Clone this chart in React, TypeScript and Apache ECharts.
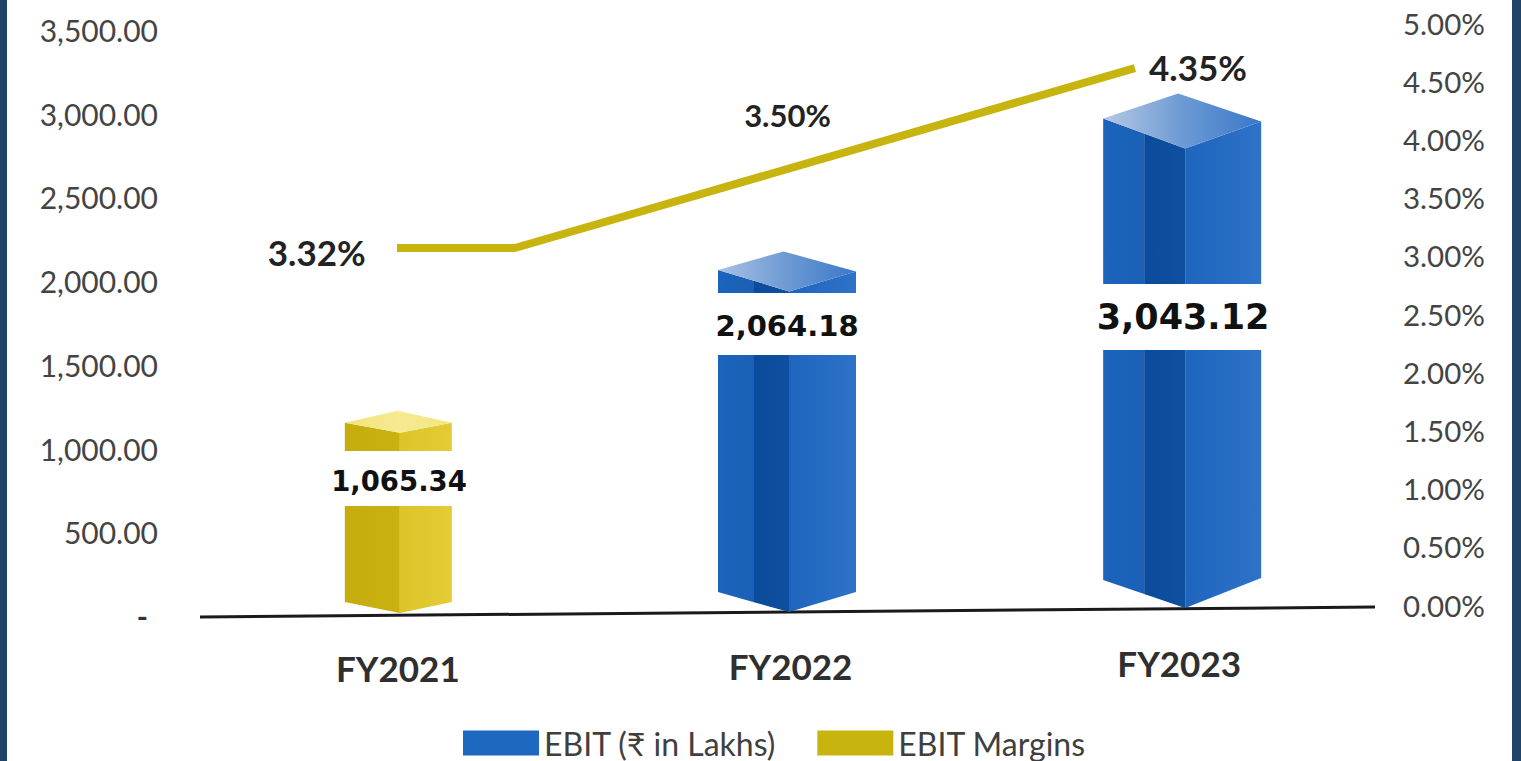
import React, { useEffect, useRef } from "react";
import * as echarts from "echarts";

const categories = ["FY2021", "FY2022", "FY2023"];
const ebitValues = [1065.34, 2064.18, 3043.12];
const marginLabels = ["3.32%", "3.50%", "4.35%"];
// The drawn line (its x is in category-band units)
const marginLineX = [0.503, 0.804, 2.387];
const marginLineY = [3.084, 3.084, 4.63];
// Where each margin label sits, in the same units
const marginLabelX = [0.298, 1.5, 2.548];
const marginLabelY = [3.05, 4.227, 4.64];

const seriesBar = "EBIT (₹ in Lakhs)";
const seriesLine = "EBIT Margins";
const FONT = "Lato, Carlito, 'Open Sans', sans-serif";
const GOLD = "#c8b40f";
const BLUE = "#1f68c0";

const lg = (stops: string[]) =>
  new echarts.graphic.LinearGradient(
    0, 0, 1, 0,
    stops.map((color, i) => ({ offset: stops.length === 1 ? 0 : i / (stops.length - 1), color }))
  );

// Drawing style of each prism: offsets in pixels from the bar's scaled centre, top and base.
const prisms = [
  {
    l: -51, r: 56, f: 4, d: -51, back: 2,
    tl: -16, tr: -16, ta: -28, tf: -6, bl: -15, br: -15, bf: -4,
    gapT: 451, gapB: 506, labelX: 399, labelY: 481, size: 27.5,
    cL: ["#c9b20e", "#c4ad0c"], cD: ["#c4ad0c", "#c8b110"], cR: ["#dcc428", "#e3cc36"],
    cT: ["#f2e476", "#f6ea92", "#f3e67e"],
  },
  {
    l: -69.5, r: 68.5, f: 1.5, d: -33.5, back: -4,
    tl: -1.5, tr: 0, ta: -20, tf: 20, bl: -25, br: -25, bf: -5,
    gapT: 293, gapB: 355, labelX: 787, labelY: 326, size: 29,
    cL: ["#1b63bb", "#1a60b6"], cD: ["#0b4b9b", "#0f4f9f"], cR: ["#1f65bd", "#2e72c9"],
    cT: ["#a9c2e2", "#6d9ad4", "#3a78c8"],
  },
  {
    l: -76, r: 82, f: 6, d: -35, back: -1,
    tl: 11, tr: 14, ta: -14, tf: 41, bl: -37, br: -39, bf: -9,
    gapT: 284, gapB: 350, labelX: 1183, labelY: 317, size: 35,
    cL: ["#1b63bb", "#1a60b6"], cD: ["#0b4b9b", "#0f4f9f"], cR: ["#1f65bd", "#2e72c9"],
    cT: ["#b5c9e4", "#6d9ad4", "#3a78c8"],
  },
];

function renderPrism(params: any, api: any) {
  const i = api.value(0);
  const v = api.value(1);
  const [cx, y] = api.coord([i, v]);
  const [, y0] = api.coord([i, 0]);
  const p = prisms[i];
  const L = cx + p.l, R = cx + p.r, F = cx + p.f, D = cx + p.d;
  const fy = y + p.tf, by = y0 + p.bf;
  const dyL = y0 + p.bl, dyR = y0 + p.br;
  const slopeLeft = (x: number, a: number, b: number) => a + ((b - a) * (x - L)) / (F - L);
  const face = (pts: number[][], fill: any) => ({ type: "polygon", shape: { points: pts }, style: { fill } });
  const children: any[] = [
    face([[L, y + p.tl], [D, slopeLeft(D, y + p.tl, fy)], [D, slopeLeft(D, dyL, by)], [L, dyL]], lg(p.cL)),
    face([[D, slopeLeft(D, y + p.tl, fy)], [F, fy], [F, by], [D, slopeLeft(D, dyL, by)]], lg(p.cD)),
    face([[F, fy], [R, y + p.tr], [R, dyR], [F, by]], lg(p.cR)),
    face([[L, y + p.tl], [cx + p.back, y + p.ta], [R, y + p.tr], [F, fy]], lg(p.cT)),
    { type: "rect", shape: { x: L - 25, y: p.gapT, width: R - L + 50, height: p.gapB - p.gapT }, style: { fill: "#ffffff" } },
    {
      type: "text",
      x: p.labelX,
      y: p.labelY,
      style: {
        text: ebitValues[i].toLocaleString("en-US", { minimumFractionDigits: 2, maximumFractionDigits: 2 }),
        font: `bold ${p.size}px 'DejaVu Sans', sans-serif`,
        fill: "#111111",
        align: "center",
        verticalAlign: "middle",
      },
    },
  ];
  return { type: "group", children };
}

export default function App() {
  const ref = useRef<HTMLDivElement>(null);
  useEffect(() => {
    const chart = echarts.init(ref.current!, undefined, { renderer: "svg" });
    chart.setOption({
      animation: false,
      backgroundColor: "#ffffff",
      grid: [
        { left: 200, right: 146, top: 31, bottom: 144 },
        { left: 200, right: 146, top: 25, bottom: 154 },
      ],
      xAxis: [
        {
          type: "category",
          gridIndex: 0,
          data: categories.map((value, i) => ({
            value,
            textStyle: { padding: [[8, 0, 0, 4], [6, 0, 0, 6], [3, 0, 0, 0]][i] },
          })),
          axisLine: { show: false },
          axisTick: { show: false },
          axisLabel: { margin: 25, fontFamily: FONT, fontSize: 35, fontWeight: "bold", color: "#2f2f2f" },
        },
        { type: "value", gridIndex: 1, min: 0, max: 3, show: false },
      ],
      yAxis: [
        {
          type: "value",
          gridIndex: 0,
          min: 0,
          max: 3500,
          interval: 500,
          splitLine: { show: false },
          axisLine: { show: false },
          axisTick: { show: false },
          axisLabel: {
            margin: 42,
            fontFamily: FONT,
            fontSize: 30,
            color: "#444444",
            padding: [0, 0, 2, 0],
            formatter: (v: number) =>
              v === 0 ? "{d|-}" : v.toLocaleString("en-US", { minimumFractionDigits: 2, maximumFractionDigits: 2 }),
            rich: { d: { fontFamily: FONT, fontSize: 30, fontWeight: "bold", color: "#333333", padding: [0, 10, 0, 0] } },
          },
        },
        {
          type: "value",
          gridIndex: 1,
          position: "right",
          min: 0,
          max: 5,
          interval: 0.5,
          splitLine: { show: false },
          axisLine: { show: false },
          axisTick: { show: false },
          axisLabel: {
            margin: 28,
            fontFamily: FONT,
            fontSize: 29.5,
            color: "#444444",
            padding: [0, 0, 4, 0],
            formatter: (v: number) => v.toFixed(2) + "%",
            rich: { n: { fontFamily: FONT, fontSize: 29.5, color: "#444444" } },
          },
        },
      ],
      legend: {
        left: 458,
        top: 722,
        itemWidth: 76,
        itemHeight: 25,
        itemGap: 41,
        icon: "rect",
        data: [seriesBar, seriesLine],
        textStyle: { fontFamily: FONT, fontSize: 32, color: "#3f3f3f" },
      },
      series: [
        {
          type: "custom",
          name: seriesBar,
          xAxisIndex: 0,
          yAxisIndex: 0,
          itemStyle: { color: BLUE },
          data: ebitValues.map((v, i) => [i, v]),
          renderItem: renderPrism,
          z: 2,
        },
        {
          type: "line",
          name: seriesLine,
          xAxisIndex: 1,
          yAxisIndex: 1,
          symbol: "none",
          lineStyle: { color: GOLD, width: 8 },
          itemStyle: { color: GOLD },
          data: marginLineX.map((x, i) => [x, marginLineY[i]]),
          z: 3,
        },
        {
          type: "scatter",
          xAxisIndex: 1,
          yAxisIndex: 1,
          symbolSize: 0,
          itemStyle: { opacity: 1 },
          data: marginLabelX.map((x, i) => ({
            value: [x, marginLabelY[i]],
            label: { fontSize: i === 1 ? 31 : 35, color: "#222222", fontFamily: FONT, fontWeight: "bold", opacity: 1 },
          })),
          label: {
            show: true,
            position: "inside",
            fontFamily: FONT,
            fontWeight: "bold",
            color: "#222222",
            opacity: 1,
            formatter: (p: any) => marginLabels[p.dataIndex],
          },
          z: 4,
        },
      ],
      graphic: [
        { type: "line", shape: { x1: 200, y1: 617, x2: 1375, y2: 607 }, style: { stroke: "#1a1a1a", lineWidth: 3 }, z: 1 },
        { type: "rect", shape: { x: 0, y: 0, width: 7, height: 761 }, style: { fill: "#1f4468" } },
        { type: "rect", shape: { x: 1512, y: 0, width: 9, height: 761 }, style: { fill: "#1f4468" } },
      ],
    });
    return () => chart.dispose();
  }, []);
  return <div ref={ref} style={{ position: "fixed", left: 0, top: 0, width: 1521, height: 761 }} />;
}
